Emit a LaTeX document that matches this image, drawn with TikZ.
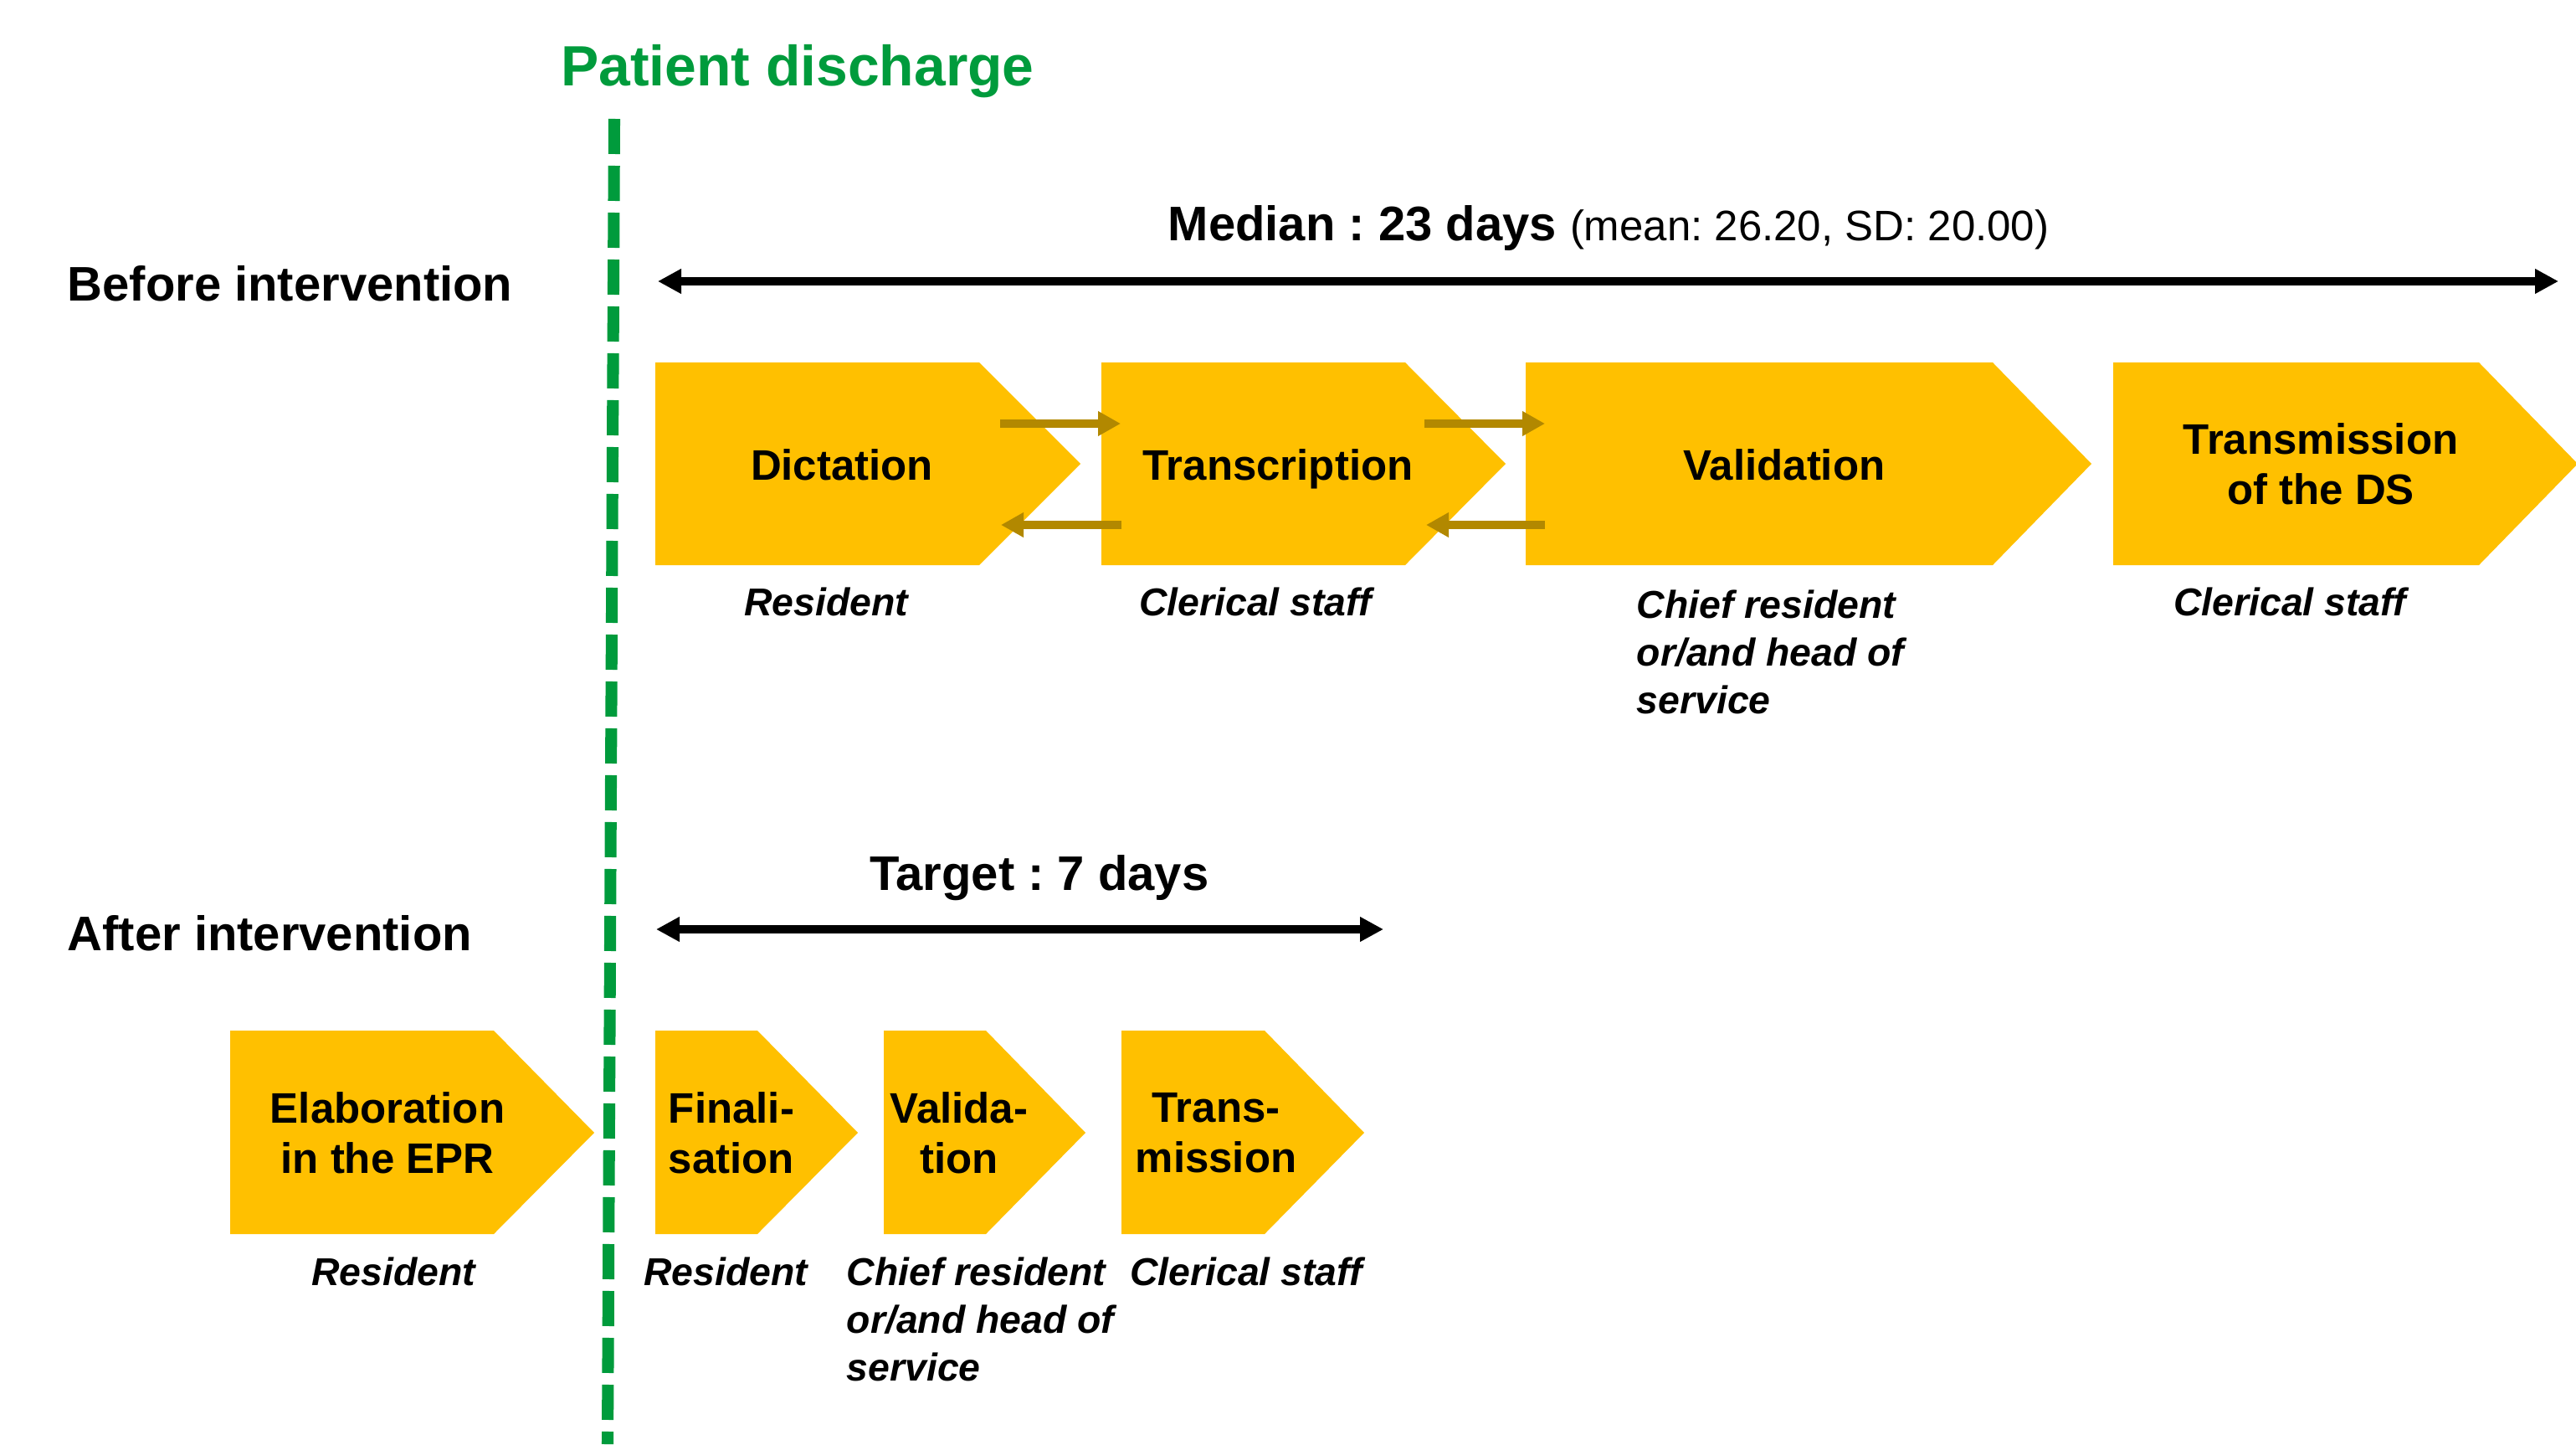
\documentclass[tikz,border=0pt]{standalone}
\usepackage{fontspec}
\setmainfont{Liberation Sans}
\usetikzlibrary{arrows.meta}
\frenchspacing

\definecolor{stepgold}{RGB}{255,192,0}
\definecolor{arrowgold}{RGB}{178,136,0}
\definecolor{dischgreen}{RGB}{0,155,60}

\tikzset{
  chevron/.style={fill=stepgold},
  steptext/.style={font=\fontsize{14.5}{17.1}\selectfont\bfseries, align=center, inner sep=0pt},
  role/.style={font=\fontsize{13.2}{16.2}\selectfont\bfseries\itshape, inner sep=0pt},
  rowtitle/.style={font=\fontsize{16.5}{20}\selectfont\bfseries, inner sep=0pt, anchor=base west},
  timespan/.style={line width=2.6pt, {Triangle[length=0.28cm,width=0.28cm]}-{Triangle[length=0.28cm,width=0.28cm]}},
  backforth/.style={arrowgold, line width=2.6pt, -{Triangle[length=0.27cm,width=0.28cm]}}
}

\begin{document}
\begin{tikzpicture}

\useasboundingbox (0,0) rectangle (30.78,17.25);

% discharge line
\coordinate (dtop) at (7.34,15.83);
\coordinate (dbot) at (7.26,0);
\draw[dischgreen,line width=4pt,dash pattern=on 0.42cm off 0.14cm] (dtop) -- (dbot);
\node[font=\fontsize{19.3}{23}\selectfont\bfseries,text=dischgreen,inner sep=0pt,anchor=base] (disch) at (9.53,16.22) {Patient discharge};

% row titles
\node[rowtitle] (before) at (0.80,13.65) {Before intervention};
\node[rowtitle] (after) at (0.80,5.90) {After intervention};

%%% before intervention %%%

\coordinate (medL) at (7.86,13.89);
\coordinate (medR) at (30.57,13.89);
\draw[timespan] (medL) -- (medR);
\node[inner sep=0pt,anchor=base] (median) at (19.22,14.37) {\fontsize{16.5}{20}\selectfont\bfseries Median : 23 days \fontsize{14.5}{17}\selectfont\mdseries(mean: 26.20, SD: 20.00)};

\fill[chevron] (7.83,12.92) -- (11.70,12.92) -- (12.91,11.71) -- (11.70,10.50) -- (7.83,10.50) -- cycle;
\fill[chevron] (13.16,12.92) -- (16.79,12.92) -- (17.99,11.71) -- (16.79,10.50) -- (13.16,10.50) -- cycle;
\fill[chevron] (18.23,12.92) -- (23.81,12.92) -- (24.99,11.71) -- (23.81,10.50) -- (18.23,10.50) -- cycle;
\fill[chevron] (25.25,12.92) -- (29.62,12.92) -- (30.80,11.71) -- (29.62,10.50) -- (25.25,10.50) -- cycle;

\node[steptext,anchor=base] (dict) at (10.06,11.52) {Dictation};
\node[steptext,anchor=base] (transc) at (15.27,11.52) {Transcription};
\node[steptext,anchor=base] (valid) at (21.32,11.52) {Validation};
\node[steptext] (transm) at (27.73,11.71) {Transmission\\of the DS};

% back and forth between steps
\coordinate (d1) at (11.95,12.19);
\coordinate (t1) at (13.39,12.19);
\coordinate (d2) at (11.96,10.98);
\coordinate (t2) at (13.40,10.98);
\coordinate (t3) at (17.02,12.19);
\coordinate (v3) at (18.46,12.19);
\coordinate (t4) at (17.04,10.98);
\coordinate (v4) at (18.46,10.98);
\draw[backforth] (d1) -- (t1);
\draw[backforth] (t2) -- (d2);
\draw[backforth] (t3) -- (v3);
\draw[backforth] (v4) -- (t4);

\node[role,anchor=base] (r1) at (9.87,9.90) {Resident};
\node[role,anchor=base] (r2) at (15.00,9.90) {Clerical staff};
\node[role,align=left,anchor=north west] (r3) at (19.55,10.21) {Chief resident\\or/and head of\\service};
\node[role,anchor=base] (r4) at (27.36,9.90) {Clerical staff};

%%% after intervention %%%

\coordinate (tgtL) at (7.84,6.15);
\coordinate (tgtR) at (16.53,6.15);
\draw[timespan] (tgtL) -- (tgtR);
\node[font=\fontsize{16.5}{20}\selectfont\bfseries,inner sep=0pt,anchor=base] (target) at (12.42,6.62) {Target : 7 days};

\fill[chevron] (2.75,4.94) -- (5.90,4.94) -- (7.10,3.72) -- (5.90,2.51) -- (2.75,2.51) -- cycle;
\fill[chevron] (7.83,4.94) -- (9.05,4.94) -- (10.25,3.72) -- (9.05,2.51) -- (7.83,2.51) -- cycle;
\fill[chevron] (10.56,4.94) -- (11.78,4.94) -- (12.97,3.72) -- (11.78,2.51) -- (10.56,2.51) -- cycle;
\fill[chevron] (13.40,4.94) -- (15.11,4.94) -- (16.30,3.72) -- (15.11,2.51) -- (13.40,2.51) -- cycle;

\node[steptext] (elab) at (4.63,3.72) {Elaboration\\in the EPR};
\node[steptext] (final) at (8.74,3.72) {Finali-\\sation};
\node[steptext] (valid2) at (11.46,3.72) {Valida-\\tion};
\node[steptext] (transm2) at (14.53,3.72) {Trans-\\mission};

\node[role,anchor=base] (s1) at (4.70,1.90) {Resident};
\node[role,anchor=base] (s2) at (8.67,1.90) {Resident};
\node[role,align=left,anchor=north west] (s3) at (10.11,2.24) {Chief resident\\or/and head of\\service};
\node[role,anchor=base] (s4) at (14.89,1.90) {Clerical staff};

\end{tikzpicture}
\end{document}
